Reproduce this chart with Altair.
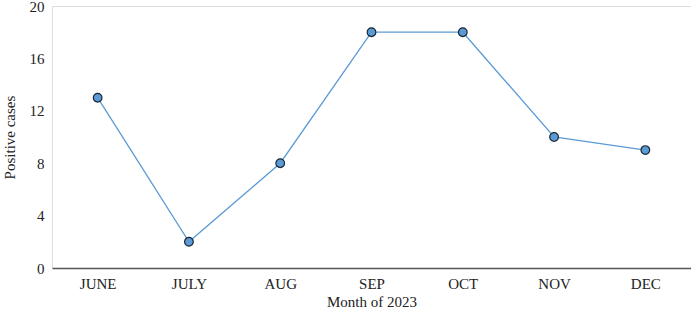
import altair as alt
import pandas as pd

months = ["JUNE", "JULY", "AUG", "SEP", "OCT", "NOV", "DEC"]
cases = [13, 2, 8, 18, 18, 10, 9]

df = pd.DataFrame({"month": months, "cases": cases})

FONT = "Liberation Serif"

x = alt.X("month:N", sort=months, title="Month of 2023",
          scale=alt.Scale(paddingInner=0, paddingOuter=0),
          axis=alt.Axis(labelAngle=0, ticks=False, domainColor="#555555", domainWidth=1.5,
                        labelFont=FONT, labelFontSize=15, labelColor="#222222", labelPadding=8,
                        titleFont=FONT, titleFontSize=15, titleFontWeight="normal",
                        titleColor="#222222", titlePadding=3, grid=False))
y = alt.Y("cases:Q", title="Positive cases",
          scale=alt.Scale(domain=[0, 20], nice=False),
          axis=alt.Axis(values=[0, 4, 8, 12, 16, 20], domain=False, ticks=False, grid=False,
                        labelFont=FONT, labelFontSize=15, labelColor="#222222", labelPadding=8,
                        titleFont=FONT, titleFontSize=15, titleFontWeight="normal",
                        titleColor="#222222", titlePadding=12))

line = alt.Chart(df).mark_line(color="#5b9bd5", strokeWidth=1.3).encode(x=x, y=y)
pts = alt.Chart(df).mark_point(filled=True, fill="#5b9bd5", stroke="#1a2633",
                               strokeWidth=1.2, size=75, opacity=1).encode(x=x, y=y)

chart = (line + pts).properties(
    width=639, height=262,
    padding={"left": 52, "top": 6, "right": 0, "bottom": 42},
    autosize=alt.AutoSizeParams(type="none"),
).configure_view(stroke=None).configure(background="white")

chart.save("out.html", embed_options={"renderer": "svg", "actions": False})
